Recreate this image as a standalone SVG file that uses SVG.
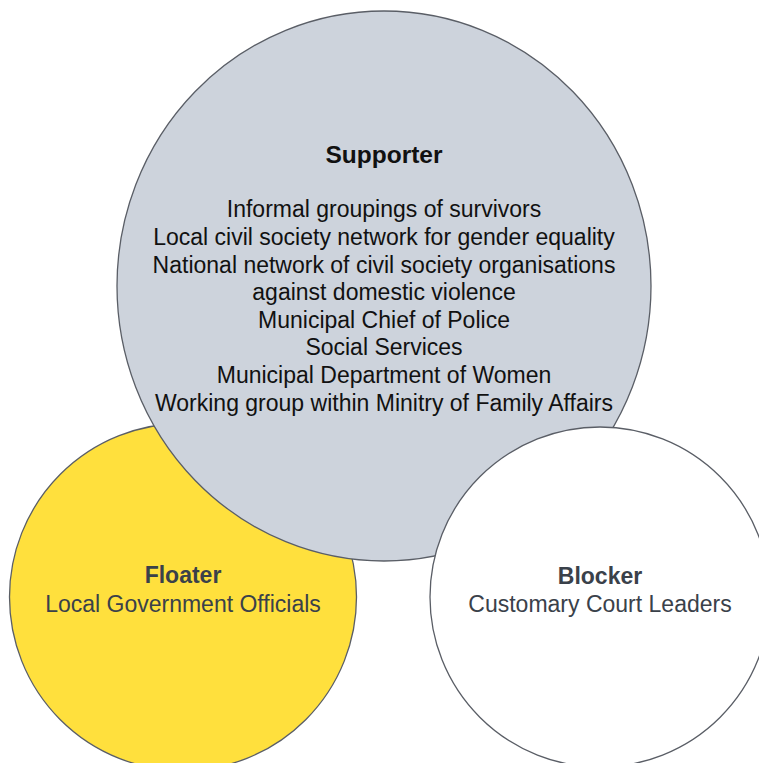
<svg xmlns="http://www.w3.org/2000/svg" width="759" height="763" viewBox="0 0 759 763">
<style>
.c{stroke:#5a5e66;stroke-width:1.3}
.t{font-family:"Liberation Sans",Arial,sans-serif;font-size:23px;text-anchor:middle}
.b{font-weight:bold}
.s{fill:#111111}
.d{fill:#3a414a}
</style>
<rect width="759" height="763" fill="#ffffff"/>
<g id="floater">
<circle class="c" cx="183" cy="597" r="173.5" fill="#ffe03d"/>
<text class="t b d" x="183" y="583">Floater</text>
<text class="t d" x="183" y="612">Local Government Officials</text>
</g>
<g id="supporter">
<ellipse class="c" cx="384" cy="286" rx="267" ry="275" fill="#cdd3dc"/>
<text class="t b s" x="384" y="163" style="font-size:24.5px">Supporter</text>
<text class="t s" x="384" y="217">Informal groupings of survivors</text>
<text class="t s" x="384" y="245">Local civil society network for gender equality</text>
<text class="t s" x="384" y="272.5">National network of civil society organisations</text>
<text class="t s" x="384" y="300">against domestic violence</text>
<text class="t s" x="384" y="327.5">Municipal Chief of Police</text>
<text class="t s" x="384" y="355">Social Services</text>
<text class="t s" x="384" y="383">Municipal Department of Women</text>
<text class="t s" x="384" y="410.5">Working group within Minitry of Family Affairs</text>
</g>
<g id="blocker">
<circle class="c" cx="600" cy="597" r="170" fill="#ffffff"/>
<text class="t b d" x="600" y="584">Blocker</text>
<text class="t d" x="600" y="612">Customary Court Leaders</text>
</g>
<g id="connectors"></g>
</svg>
